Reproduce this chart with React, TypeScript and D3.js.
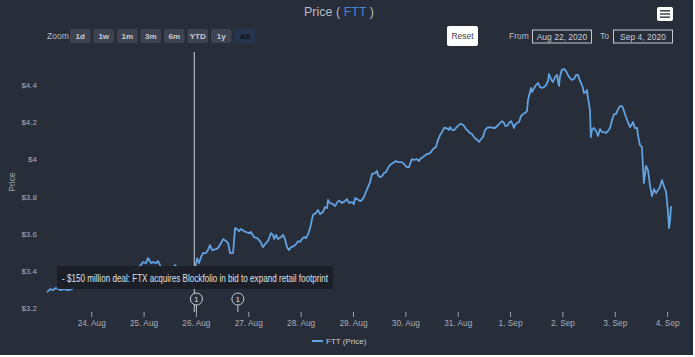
import React from "react";
import * as d3 from "d3";

// hours since 23 Aug 2020 00:00 UTC
const hours = [
  3.5, 4.9, 6.3, 7.6, 9.5, 11.3, 13.1, 15.0, 16.8, 20.9, 25.5, 30.1, 34.7, 39.3, 43.9,
  46.1, 47.5, 48.9, 49.8, 51.2, 52.1, 53.5, 54.4, 55.3, 56.2, 57.6, 59.9, 62.2, 64.5, 67.7,
  70.4, 71.4, 72.3, 73.2, 74.1, 75.0, 76.4, 77.3, 78.2, 79.2, 81.0, 81.9, 83.3, 84.2, 85.6,
  86.5, 87.4, 88.8, 89.7, 90.6, 91.5, 92.4, 93.8, 94.7, 96.1, 97.0, 98.4, 99.8, 101.2, 102.5,
  103.9, 104.8, 106.2, 107.1, 107.6, 108.5, 109.4, 110.8, 111.7, 112.6, 113.5, 114.4, 115.4, 116.7, 117.7,
  118.6, 119.5, 120.4, 121.3, 122.2, 123.2, 124.1, 125.4, 126.8, 127.7, 128.7, 130.0, 130.9, 131.9, 132.3,
  133.2, 134.6, 135.5, 136.9, 137.8, 138.7, 140.1, 141.0, 142.0, 143.3, 144.2, 144.7, 145.6, 147.0, 147.9,
  148.8, 149.7, 150.7, 151.6, 152.5, 153.9, 154.8, 155.2, 156.2, 157.1, 158.0, 158.9, 159.8, 160.7, 162.1,
  163.5, 164.4, 165.8, 166.7, 167.6, 168.5, 169.5, 169.9, 170.8, 171.7, 173.1, 174.0, 174.5, 175.9, 177.7,
  179.1, 180.5, 181.8, 182.7, 183.7, 184.6, 185.5, 186.4, 187.3, 187.8, 188.2, 189.2, 190.1, 191.0, 191.9,
  192.8, 193.7, 194.7, 195.6, 196.5, 197.4, 198.3, 199.2, 200.2, 201.5, 202.5, 203.4, 204.3, 205.2, 206.6,
  208.0, 208.9, 210.3, 211.2, 212.1, 213.0, 213.5, 214.4, 215.3, 216.2, 216.7, 217.6, 218.0, 219.0, 219.9,
  220.8, 221.7, 222.6, 223.5, 224.0, 224.9, 225.4, 225.8, 226.8, 227.7, 228.6, 229.5, 230.4, 231.3, 232.3,
  233.2, 233.6, 234.5, 235.4, 236.4, 237.3, 237.7, 238.2, 238.6, 239.5, 240.5, 241.4, 242.3, 243.2, 244.1,
  245.1, 246.0, 246.9, 247.3, 248.3, 249.2, 249.6, 250.6, 251.0, 251.5, 252.4, 252.8, 253.3, 254.2, 255.2,
  256.1, 257.0, 257.9, 258.8, 259.7, 260.7, 261.6, 262.5, 263.4, 264.3, 265.3, 266.2, 267.1, 268.0, 268.9,
  269.8, 270.8, 271.7, 272.1, 273.0, 274.0, 274.4, 275.3, 276.2, 276.7, 277.1, 278.1, 279.0, 279.9, 280.8,
  281.8, 282.7, 283.6, 284.5, 285.4, 286.3, 287.3, 288.2, 288.6, 289.1, 289.5, 290.0,
];

const prices = [
  3.287, 3.303, 3.298, 3.309, 3.298, 3.303, 3.298, 3.303, 3.341, 3.357, 3.368, 3.379, 3.368, 3.389, 3.405,
  3.427, 3.448, 3.443, 3.470, 3.443, 3.448, 3.443, 3.454, 3.432, 3.416, 3.395, 3.395, 3.432, 3.395, 3.373,
  3.395, 3.416, 3.470, 3.443, 3.475, 3.497, 3.497, 3.513, 3.540, 3.513, 3.518, 3.524, 3.551, 3.572, 3.561,
  3.551, 3.497, 3.497, 3.631, 3.626, 3.615, 3.626, 3.615, 3.610, 3.604, 3.610, 3.583, 3.577, 3.561, 3.529,
  3.551, 3.561, 3.604, 3.594, 3.572, 3.594, 3.572, 3.583, 3.594, 3.572, 3.529, 3.513, 3.529, 3.534, 3.545,
  3.561, 3.556, 3.572, 3.583, 3.577, 3.599, 3.631, 3.701, 3.712, 3.728, 3.706, 3.717, 3.744, 3.739, 3.782,
  3.766, 3.760, 3.749, 3.776, 3.776, 3.766, 3.776, 3.787, 3.766, 3.771, 3.760, 3.792, 3.787, 3.776, 3.782,
  3.798, 3.825, 3.852, 3.878, 3.922, 3.927, 3.938, 3.916, 3.905, 3.911, 3.927, 3.932, 3.954, 3.970, 3.981,
  3.991, 3.986, 3.986, 3.981, 3.970, 3.959, 3.959, 3.975, 4.002, 3.997, 4.002, 3.991, 4.002, 4.013, 4.029,
  4.034, 4.056, 4.067, 4.104, 4.131, 4.147, 4.169, 4.169, 4.163, 4.158, 4.174, 4.158, 4.158, 4.169, 4.180,
  4.190, 4.190, 4.180, 4.163, 4.153, 4.142, 4.137, 4.120, 4.110, 4.094, 4.110, 4.120, 4.158, 4.169, 4.174,
  4.169, 4.169, 4.185, 4.196, 4.206, 4.196, 4.180, 4.180, 4.196, 4.206, 4.196, 4.169, 4.185, 4.196, 4.201,
  4.233, 4.244, 4.249, 4.260, 4.319, 4.362, 4.384, 4.362, 4.384, 4.400, 4.411, 4.389, 4.384, 4.389, 4.400,
  4.422, 4.459, 4.432, 4.416, 4.443, 4.454, 4.422, 4.395, 4.443, 4.481, 4.486, 4.475, 4.454, 4.438, 4.427,
  4.432, 4.454, 4.454, 4.438, 4.411, 4.384, 4.357, 4.362, 4.373, 4.330, 4.266, 4.120, 4.158, 4.169, 4.153,
  4.126, 4.163, 4.147, 4.147, 4.142, 4.153, 4.169, 4.212, 4.244, 4.244, 4.271, 4.287, 4.287, 4.260, 4.228,
  4.201, 4.174, 4.190, 4.201, 4.169, 4.169, 4.131, 4.077, 4.067, 3.959, 3.873, 3.965, 3.943, 3.862, 3.803,
  3.841, 3.819, 3.835, 3.852, 3.889, 3.857, 3.825, 3.712, 3.631, 3.669, 3.744, 3.744,
];

const yTicks = [3.2, 3.4, 3.6, 3.8, 4.0, 4.2, 4.4];
const yTickLabels = ["$3.2", "$3.4", "$3.6", "$3.8", "$4", "$4.2", "$4.4"];
const xTickDays = [1, 2, 3, 4, 5, 6, 7, 8, 9, 10, 11, 12]; // days after 23 Aug
const xTickLabels = ["24. Aug", "25. Aug", "26. Aug", "27. Aug", "28. Aug", "29. Aug", "30. Aug", "31. Aug", "1. Sep", "2. Sep", "3. Sep", "4. Sep"];
const flagHours = [72, 91];
const flagTitles = ["1", "1"];
const crosshairHour = 71;
const zoomButtons = ["1d", "1w", "1m", "3m", "6m", "YTD", "1y", "All"];
const tooltipText = "- $150 million deal: FTX acquires Blockfolio in bid to expand retail footprint";

const BASE = Date.UTC(2020, 7, 23);
const toDate = (h: number) => new Date(BASE + h * 3600 * 1000);

const FONT = "'Liberation Sans', Arial, Helvetica, sans-serif";
const BG = "#282d3a";

export default function App() {
  const plotLeft = 47, plotRight = 672, plotTop = 52, plotBottom = 312;
  const x = d3.scaleUtc().domain([toDate(hours[0]), toDate(hours[hours.length - 1])]).range([plotLeft, plotRight]);
  const y = d3.scaleLinear().domain([3.2, 4.4]).range([308.3, 85]);
  const data = hours.map((h, i) => ({ t: toDate(h), p: prices[i] }));
  const line = d3.line<{ t: Date; p: number }>().x((d) => x(d.t)).y((d) => y(d.p));

  const btnW = 20.5, btnGap = 3, btnX0 = 70;
  const cx = x(toDate(crosshairHour));

  return (
    <svg width={695} height={357} style={{ position: "absolute", left: 0, top: 0, background: "#ffffff" }} fontFamily={FONT}>
      <defs>
        <clipPath id="plotclip">
          <rect x={plotLeft - 2} y={plotTop} width={plotRight - plotLeft + 4} height={plotBottom - plotTop} />
        </clipPath>
      </defs>
      <rect x={0} y={0} width={693} height={355} fill={BG} />

      {/* title */}
      <text x={339} y={16} textAnchor="middle" fontSize={12.5} fill="#b7bcc6">
        Price ( <tspan fill="#3f86d8">FTT</tspan> )
      </text>

      {/* menu */}
      <rect x={657} y={7} width={16} height={14} rx={2} fill="#ffffff" />
      {[0, 1, 2].map((i) => (
        <rect key={i} x={660} y={10 + i * 3.2} width={10} height={1.6} fill="#4a4f5a" />
      ))}

      {/* zoom buttons */}
      <text x={47} y={39} fontSize={8.5} fill="#b9bdc6">Zoom</text>
      {zoomButtons.map((b, i) => {
        const bx = btnX0 + i * (btnW + btnGap);
        const sel = b === "All";
        return (
          <g key={b}>
            <rect x={bx} y={29} width={btnW} height={14} rx={2} fill={sel ? "#25344f" : "#3d4351"} />
            <text x={bx + btnW / 2} y={39} textAnchor="middle" fontSize={8} fontWeight="bold" fill={sel ? "#0d0f14" : "#c8ccd4"}>{b}</text>
          </g>
        );
      })}

      {/* reset */}
      <rect x={447} y={26} width={31} height={20} rx={2} fill="#ffffff" />
      <text x={462.5} y={39} textAnchor="middle" fontSize={8.5} fill="#444">Reset</text>

      {/* range inputs */}
      <text x={509} y={39} fontSize={8.5} fill="#b9bdc6">From</text>
      <rect x={532.5} y={30} width={59} height={13} fill="none" stroke="#c4c8d0" strokeWidth={1} />
      <text x={562} y={39.5} textAnchor="middle" fontSize={8.5} fill="#c8ccd4">Aug 22, 2020</text>
      <text x={600} y={39} fontSize={8.5} fill="#b9bdc6">To</text>
      <rect x={613.5} y={30} width={59} height={13} fill="none" stroke="#c4c8d0" strokeWidth={1} />
      <text x={643} y={39.5} textAnchor="middle" fontSize={8.5} fill="#c8ccd4">Sep 4, 2020</text>

      {/* y axis */}
      <text transform={`translate(15,182) rotate(-90)`} textAnchor="middle" fontSize={8.5} fill="#9ca1ab">Price</text>
      {yTicks.map((t, i) => (
        <text key={t} x={37} y={y(t) + 3} textAnchor="end" fontSize={8} fill="#a9aeb8">{yTickLabels[i]}</text>
      ))}

      {/* x axis */}
      {xTickDays.map((dd, i) => {
        const tx = x(toDate(dd * 24));
        return (
          <g key={dd}>
            <line x1={tx} x2={tx} y1={312} y2={317} stroke="#9ca1ab" strokeWidth={1} />
            <text x={tx} y={325.5} textAnchor="middle" fontSize={8.3} fill="#a9aeb8">{xTickLabels[i]}</text>
          </g>
        );
      })}

      {/* crosshair */}
      <line x1={cx} x2={cx} y1={plotTop} y2={plotBottom} stroke="#d0d3d9" strokeWidth={1} />

      {/* series */}
      <path d={line(data) || ""} fill="none" stroke="#62a2e0" strokeWidth={1.8} strokeLinejoin="round" clipPath="url(#plotclip)" />

      {/* flags */}
      {flagHours.map((h, i) => {
        const fx = x(toDate(h));
        return (
          <g key={i}>
            <line x1={fx} x2={fx} y1={305} y2={312} stroke="#c7cbd2" strokeWidth={1} />
            <circle cx={fx} cy={299} r={6} fill={BG} stroke="#c7cbd2" strokeWidth={1} />
            <text x={fx} y={302} textAnchor="middle" fontSize={7.5} fill="#e4e6ea">{flagTitles[i]}</text>
          </g>
        );
      })}

      {/* tooltip */}
      <rect x={57} y={266} width={276} height={23} rx={1} fill="#1c1f27" fillOpacity={0.96} />
      <text x={62} y={281.5} fontSize={10} fill="#dfe2e7" textLength={266} lengthAdjust="spacingAndGlyphs">{tooltipText}</text>

      {/* legend */}
      <line x1={312} x2={323} y1={341} y2={341} stroke="#62a2e0" strokeWidth={2} />
      <text x={326} y={344} fontSize={8} fill="#c8ccd4">FTT (Price)</text>
    </svg>
  );
}
